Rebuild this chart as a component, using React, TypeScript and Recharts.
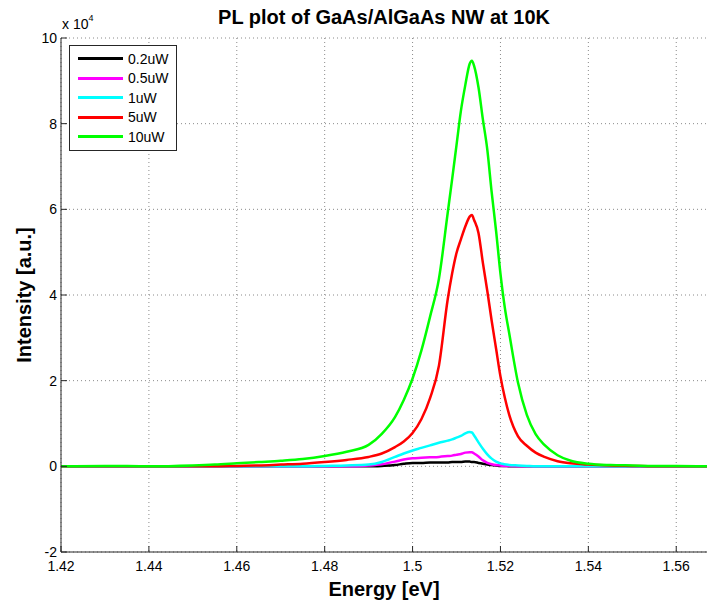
import React from 'react';
import {
  LineChart,
  Line,
  XAxis,
  YAxis,
  CartesianGrid,
  Legend,
} from 'recharts';

// photon energy [eV]
const energy = [
  1.42, 1.43, 1.44, 1.45, 1.455, 1.46, 1.465, 1.47, 1.475, 1.48,
  1.485, 1.49, 1.493, 1.496, 1.498, 1.5, 1.502, 1.504, 1.506, 1.508,
  1.509, 1.51, 1.511, 1.512, 1.513, 1.5135, 1.514, 1.515, 1.516, 1.517,
  1.518, 1.519, 1.52, 1.521, 1.522, 1.524, 1.526, 1.528, 1.53, 1.533,
  1.536, 1.54, 1.545, 1.55, 1.555, 1.56, 1.567,
];

// PL intensity, in units of 1e4 counts
const p02uW = [
  0, 0, 0, 0, 0, 0, 0, 0, 0, 0,
  0, 0, 0.01, 0.03, 0.06, 0.08, 0.08, 0.09, 0.09, 0.09,
  0.1, 0.1, 0.1, 0.11, 0.11, 0.1, 0.1, 0.08, 0.06, 0.04,
  0.03, 0.02, 0.01, 0.01, 0, 0, 0, 0, 0, 0,
  0, 0, 0, 0, 0, 0, 0,
];
const p05uW = [
  0, 0, 0, 0, 0, 0, 0, 0, 0, 0,
  0, 0.02, 0.05, 0.11, 0.16, 0.19, 0.2, 0.21, 0.22, 0.24,
  0.25, 0.27, 0.29, 0.32, 0.33, 0.33, 0.3, 0.23, 0.14, 0.08,
  0.05, 0.03, 0.02, 0.01, 0.01, 0, 0, 0, 0, 0,
  0, 0, 0, 0, 0, 0, 0,
];
const p1uW = [
  0, 0, 0, 0, 0, 0, 0, 0, 0, 0.01,
  0.02, 0.04, 0.1, 0.22, 0.3, 0.37, 0.43, 0.49, 0.55, 0.6,
  0.63, 0.67, 0.71, 0.77, 0.8, 0.79, 0.72, 0.56, 0.41, 0.28,
  0.18, 0.11, 0.07, 0.05, 0.03, 0.02, 0.01, 0, 0, 0,
  0, 0, 0, 0, 0, 0, 0,
];
const p5uW = [
  0, 0, 0, 0, 0, 0.01, 0.02, 0.04, 0.06, 0.1,
  0.15, 0.22, 0.3, 0.45, 0.58, 0.78, 1.1, 1.6, 2.35, 3.9,
  4.5, 4.98, 5.3, 5.6, 5.83, 5.87, 5.75, 5.45, 4.75, 4.1,
  3.4, 2.75, 2.1, 1.6, 1.2, 0.7, 0.48, 0.32, 0.22, 0.12,
  0.07, 0.04, 0.02, 0.01, 0, 0, 0,
];
const p10uW = [
  0, 0.01, 0, 0.02, 0.04, 0.07, 0.1, 0.13, 0.17, 0.24,
  0.34, 0.5, 0.76, 1.15, 1.55, 2.05, 2.7, 3.5, 4.38, 5.92,
  6.7, 7.5, 8.3, 8.9, 9.4, 9.47, 9.35, 8.85, 8.1, 7.4,
  6.4, 5.5, 4.5, 3.7, 3.1, 1.95, 1.2, 0.75, 0.5, 0.26,
  0.13, 0.06, 0.03, 0.02, 0.01, 0.01, 0,
];

const xTicks = [1.42, 1.44, 1.46, 1.48, 1.5, 1.52, 1.54, 1.56];
const yTicks = [-2, 0, 2, 4, 6, 8, 10];

const series = [
  { key: 'p02', name: '0.2uW', color: '#000000', values: p02uW },
  { key: 'p05', name: '0.5uW', color: '#ff00ff', values: p05uW },
  { key: 'p1', name: '1uW', color: '#00ffff', values: p1uW },
  { key: 'p5', name: '5uW', color: '#ff0000', values: p5uW },
  { key: 'p10', name: '10uW', color: '#00ff00', values: p10uW },
];

const data = energy.map((e, i) => {
  const row: Record<string, number> = { energy: e };
  series.forEach((s) => {
    row[s.key] = s.values[i];
  });
  return row;
});

const FONT = '"Liberation Sans", Arial, sans-serif';
const AXIS = '#262626';

const XTick = (props: any) => {
  const { x, y, payload } = props;
  return (
    <g>
      <line x1={x} y1={y} x2={x} y2={y - 6} stroke={AXIS} />
      <text x={x} y={y + 19} textAnchor="middle" fontSize={14} fontFamily={FONT} fill="#000">
        {String(Number(payload.value.toFixed(2)))}
      </text>
    </g>
  );
};

const YTick = (props: any) => {
  const { x, y, payload } = props;
  return (
    <g>
      <line x1={x} y1={y} x2={x + 6} y2={y} stroke={AXIS} />
      <text x={x - 4} y={y + 5} textAnchor="end" fontSize={14} fontFamily={FONT} fill="#000">
        {payload.value}
      </text>
    </g>
  );
};

const YLabel = (props: any) => {
  const { viewBox } = props;
  const cx = viewBox.x + 24;
  const cy = viewBox.y + viewBox.height / 2;
  return (
    <text
      x={cx}
      y={cy}
      transform={`rotate(-90 ${cx} ${cy})`}
      textAnchor="middle"
      dominantBaseline="central"
      fontSize={20}
      fontWeight="bold"
      fontFamily={FONT}
      fill="#000"
    >
      Intensity [a.u.]
    </text>
  );
};

const LegendBox = (props: any) => {
  const payload = [...(props.payload || [])].sort(
    (a: any, b: any) =>
      series.findIndex((s) => s.name === a.value) - series.findIndex((s) => s.name === b.value)
  );
  return (
    <div
      style={{
        border: `1px solid ${AXIS}`,
        background: '#fff',
        width: 108,
        padding: '3px 0',
        fontFamily: FONT,
        fontSize: 14,
        boxSizing: 'border-box',
      }}
    >
      {payload.map((p: any) => (
        <div key={p.value} style={{ display: 'flex', alignItems: 'center', height: 19.5 }}>
          <div style={{ width: 45, height: 3, background: p.color, marginLeft: 8, marginRight: 5 }} />
          <span style={{ color: '#000' }}>{p.value}</span>
        </div>
      ))}
    </div>
  );
};

export default function App() {
  return (
    <div style={{ position: 'absolute', left: 0, top: 0, width: 707, height: 601, background: '#fff' }}>
      <div
        style={{
          position: 'absolute',
          left: 61,
          width: 646,
          top: 6,
          textAlign: 'center',
          fontFamily: FONT,
          fontWeight: 'bold',
          fontSize: 20,
          color: '#000',
        }}
      >
        PL plot of GaAs/AlGaAs NW at 10K
      </div>
      <div
        style={{ position: 'absolute', left: 62, top: 16, fontFamily: FONT, fontSize: 14, color: '#000' }}
      >
        x 10<sup style={{ fontSize: 9, verticalAlign: 'top', position: 'relative', top: -3 }}>4</sup>
      </div>
      <LineChart
        width={707}
        height={601}
        data={data}
        margin={{ top: 38, right: 0, bottom: 0, left: 0 }}
      >
        <CartesianGrid
          stroke="#8a8a8a"
          strokeDasharray="1 3"
          horizontalValues={yTicks}
          verticalValues={xTicks}
        />
        <XAxis
          dataKey="energy"
          type="number"
          domain={[1.42, 1.567]}
          ticks={xTicks}
          allowDataOverflow
          height={49}
          tickSize={0}
          tickMargin={0}
          tickLine={false}
          axisLine={{ stroke: AXIS }}
          tick={<XTick />}
          interval={0}
          label={{
            value: 'Energy [eV]',
            position: 'insideBottom',
            offset: 5,
            fontSize: 20,
            fontWeight: 'bold',
            fontFamily: FONT,
            fill: '#000',
          }}
        />
        <YAxis
          type="number"
          domain={[-2, 10]}
          ticks={yTicks}
          width={61}
          tickSize={0}
          tickMargin={0}
          tickLine={false}
          axisLine={{ stroke: AXIS }}
          tick={<YTick />}
          interval={0}
          label={<YLabel />}
        />
        <Legend
          layout="vertical"
          verticalAlign="middle"
          align="center"
          content={<LegendBox />}
          wrapperStyle={{ position: 'absolute', left: 69, top: 45, width: 108 }}
        />
        {series.map((s) => (
          <Line
            key={s.key}
            type="monotone"
            dataKey={s.key}
            name={s.name}
            stroke={s.color}
            strokeWidth={2.5}
            dot={false}
            isAnimationActive={false}
          />
        ))}
      </LineChart>
    </div>
  );
}
